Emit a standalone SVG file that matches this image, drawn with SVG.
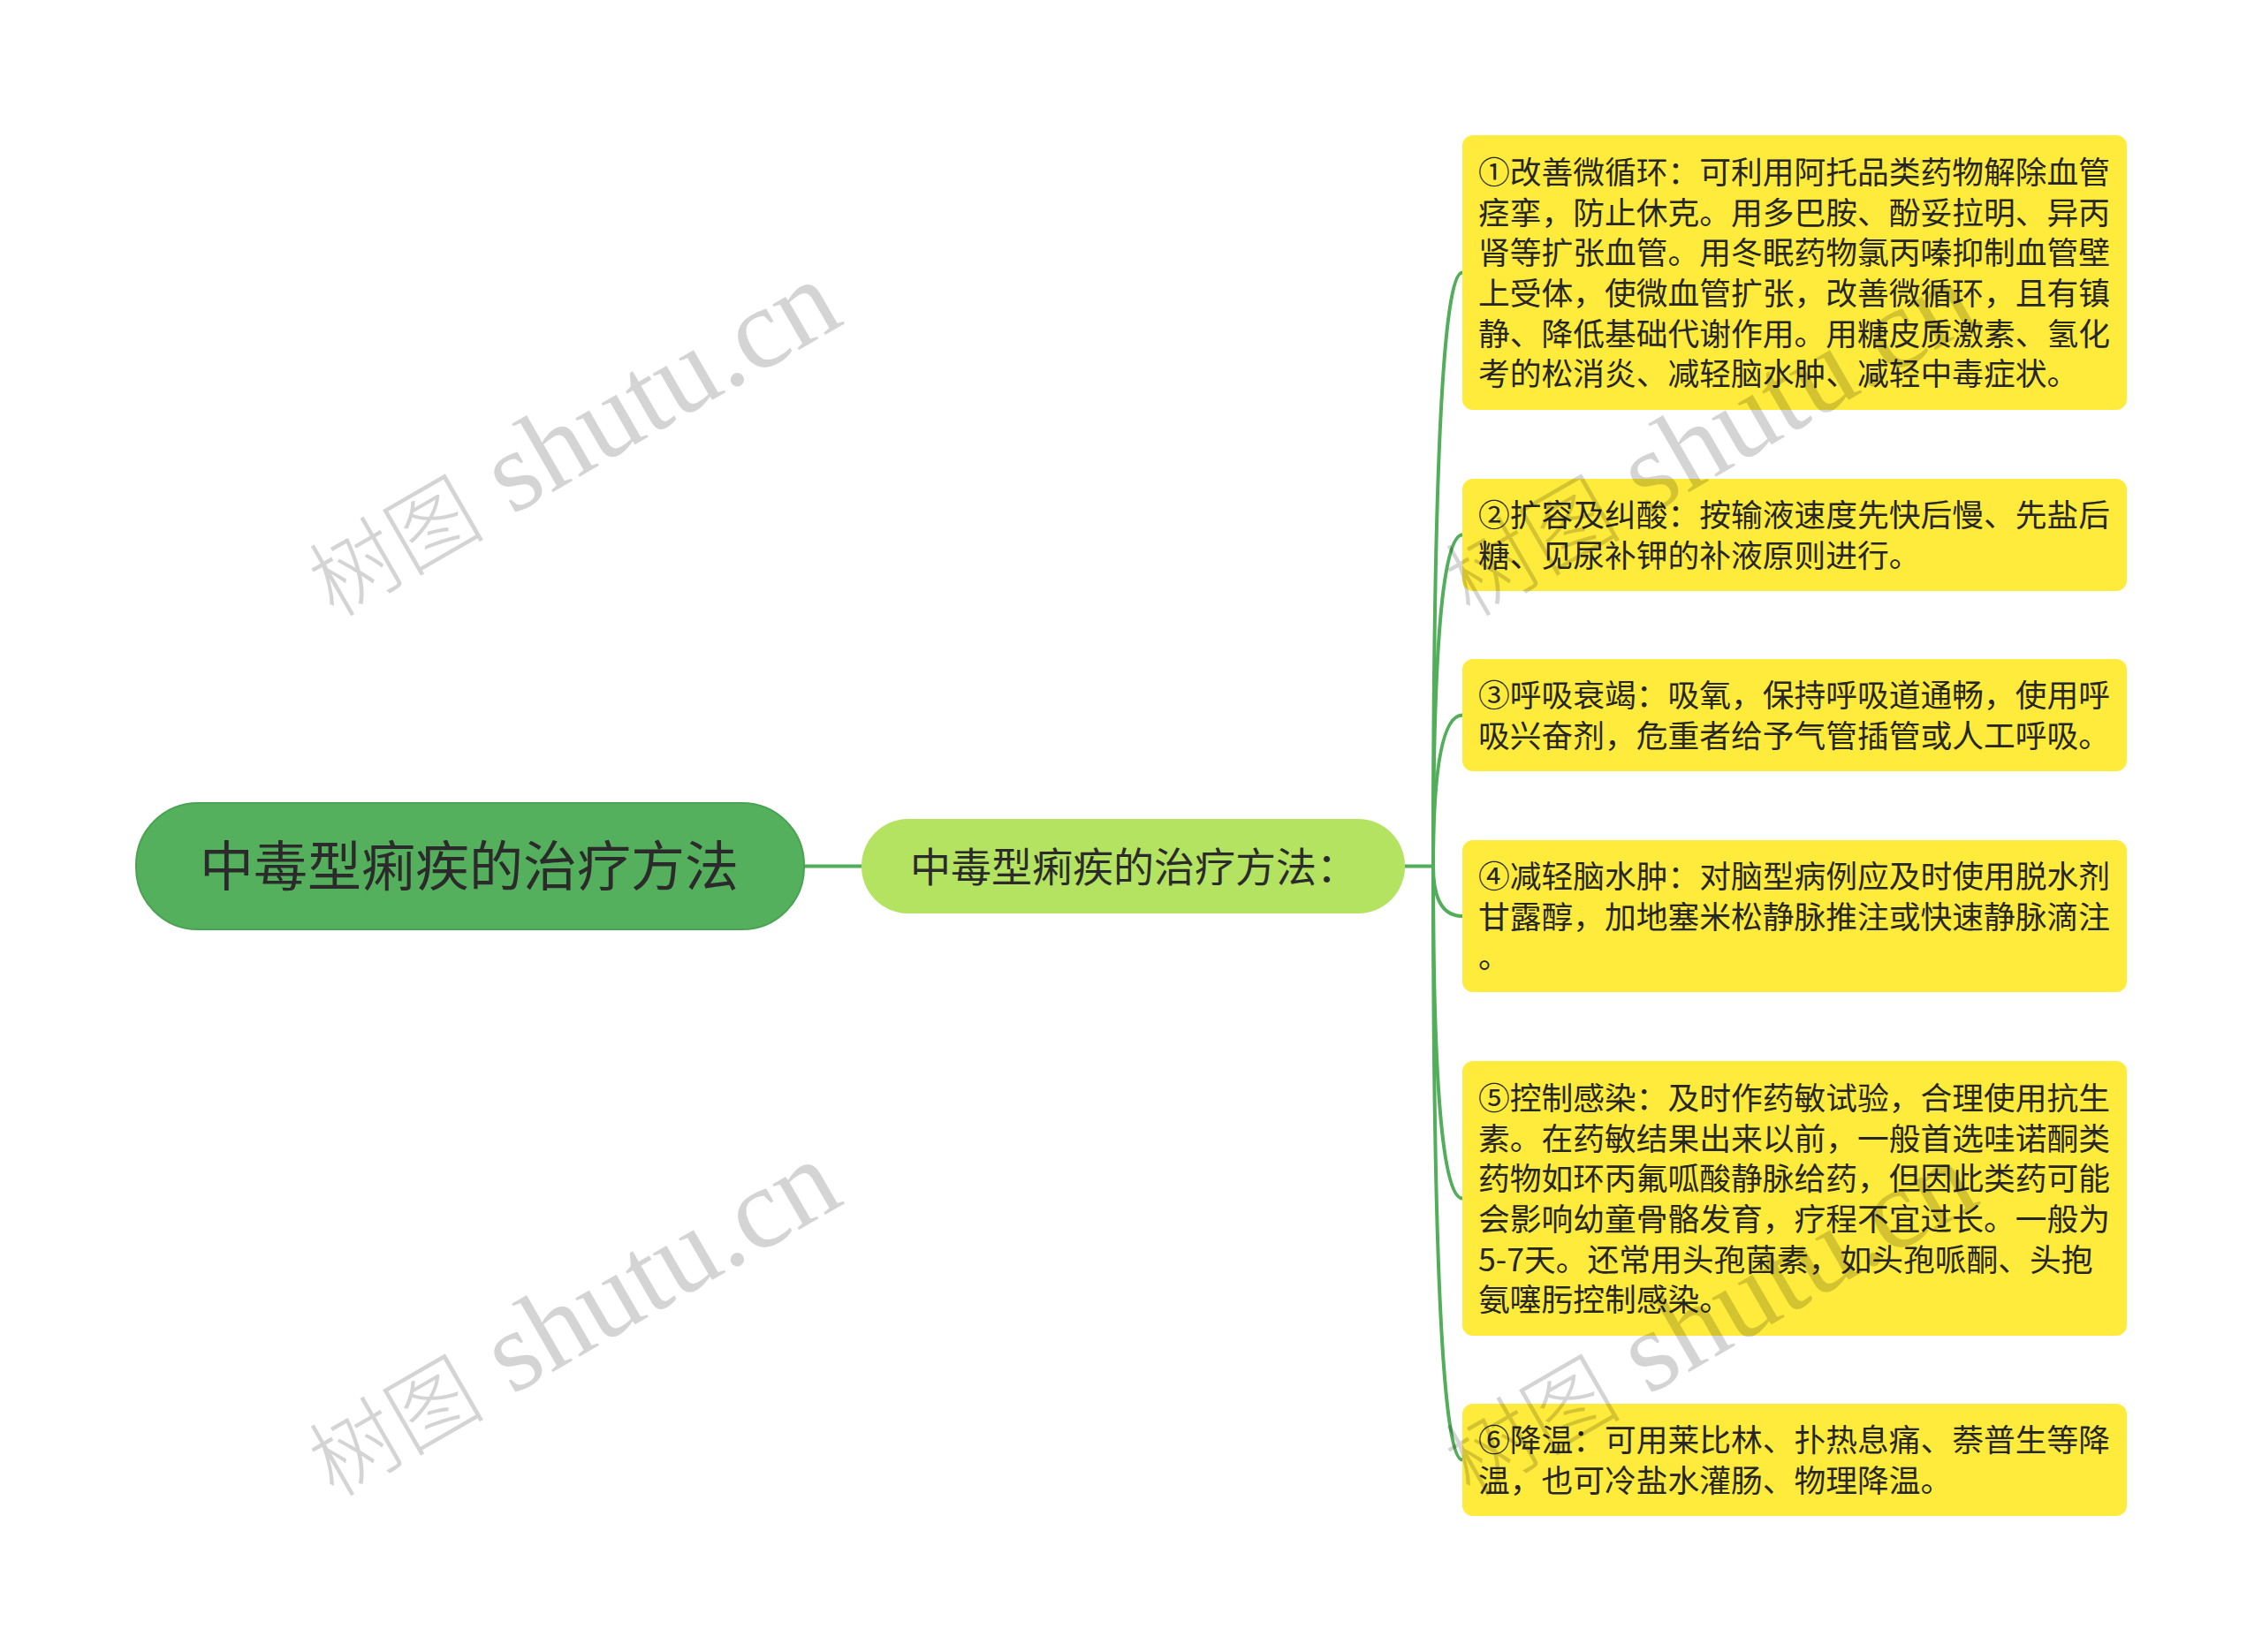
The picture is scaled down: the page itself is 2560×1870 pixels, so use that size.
<svg xmlns="http://www.w3.org/2000/svg" width="2560" height="1870" viewBox="0 0 2560 1870">
<style>
  .cjk { font-family: "Noto Sans CJK SC", "Noto Sans", sans-serif; }
  .leaf rect { fill: #ffeb3b; }
  .leaf text { font-size: 35.75px; fill: #262626; }
  .conn { fill: none; stroke: #52ae5a; stroke-width: 4; stroke-linecap: round; }
  .wm { font-family: "Liberation Serif", "Noto Sans CJK SC", serif; font-size: 130px; fill: #000; fill-opacity: 0.17; }
  .wm .zh { font-family: "Noto Sans CJK SC", serif; font-size: 100px; font-weight: 300; }
</style>
<rect width="2560" height="1870" fill="#ffffff"/>
<g id="connectors">
  <line class="conn" x1="908" y1="980.5" x2="977" y2="980.5"/>
  <line class="conn" x1="1588" y1="980.5" x2="1622" y2="980.5"/>
  <path class="conn" d="M1622 980.5 Q1622 308.5 1655 308.5"/>
  <path class="conn" d="M1622 980.5 Q1622 605.5 1655 605.5"/>
  <path class="conn" d="M1622 980.5 Q1622 809.5 1655 809.5"/>
  <path class="conn" d="M1622 980.5 Q1622 1037 1655 1037"/>
  <path class="conn" d="M1622 980.5 Q1622 1356.5 1655 1356.5"/>
  <path class="conn" d="M1622 980.5 Q1622 1652.5 1655 1652.5"/>
</g>
<g id="root">
  <rect x="154" y="909" width="756" height="143" rx="70" ry="70" fill="#55b05d" stroke="#4aa352" stroke-width="2"/>
  <text class="cjk" x="531" y="1003" text-anchor="middle" font-size="61" fill="#2b2b2b">中毒型痢疾的治疗方法</text>
</g>
<g id="main">
  <rect x="975" y="927" width="615" height="107" rx="53" ry="53" fill="#b4e361"/>
  <text class="cjk" x="1030" y="998" font-size="46" fill="#2b2b2b">中毒型痢疾的治疗方法：</text>
</g>
<g id="n1" class="leaf cjk">
  <rect x="1655" y="153" width="752" height="311" rx="12"/>
  <text>
    <tspan x="1673" y="208">①改善微循环：可利用阿托品类药物解除血管</tspan>
    <tspan x="1673" y="253.5">痉挛，防止休克。用多巴胺、酚妥拉明、异丙</tspan>
    <tspan x="1673" y="299">肾等扩张血管。用冬眠药物氯丙嗪抑制血管壁</tspan>
    <tspan x="1673" y="345">上受体，使微血管扩张，改善微循环，且有镇</tspan>
    <tspan x="1673" y="390.5">静、降低基础代谢作用。用糖皮质激素、氢化</tspan>
    <tspan x="1673" y="436">考的松消炎、减轻脑水肿、减轻中毒症状。</tspan>
  </text>
</g>
<g id="n2" class="leaf cjk">
  <rect x="1655" y="542" width="752" height="127" rx="12"/>
  <text>
    <tspan x="1673" y="596">②扩容及纠酸：按输液速度先快后慢、先盐后</tspan>
    <tspan x="1673" y="642">糖、见尿补钾的补液原则进行。</tspan>
  </text>
</g>
<g id="n3" class="leaf cjk">
  <rect x="1655" y="746" width="752" height="127" rx="12"/>
  <text>
    <tspan x="1673" y="800">③呼吸衰竭：吸氧，保持呼吸道通畅，使用呼</tspan>
    <tspan x="1673" y="846">吸兴奋剂，危重者给予气管插管或人工呼吸。</tspan>
  </text>
</g>
<g id="n4" class="leaf cjk">
  <rect x="1655" y="951" width="752" height="172" rx="12"/>
  <text>
    <tspan x="1673" y="1005">④减轻脑水肿：对脑型病例应及时使用脱水剂</tspan>
    <tspan x="1673" y="1050.5">甘露醇，加地塞米松静脉推注或快速静脉滴注</tspan>
    <tspan x="1673" y="1096">。</tspan>
  </text>
</g>
<g id="n5" class="leaf cjk">
  <rect x="1655" y="1201" width="752" height="311" rx="12"/>
  <text>
    <tspan x="1673" y="1256">⑤控制感染：及时作药敏试验，合理使用抗生</tspan>
    <tspan x="1673" y="1301.5">素。在药敏结果出来以前，一般首选哇诺酮类</tspan>
    <tspan x="1673" y="1347">药物如环丙氟呱酸静脉给药，但因此类药可能</tspan>
    <tspan x="1673" y="1393">会影响幼童骨骼发育，疗程不宜过长。一般为</tspan>
    <tspan x="1673" y="1438.5">5-7天。还常用头孢菌素，如头孢哌酮、头抱</tspan>
    <tspan x="1673" y="1484">氨噻肟控制感染。</tspan>
  </text>
</g>
<g id="n6" class="leaf cjk">
  <rect x="1655" y="1589" width="752" height="127" rx="12"/>
  <text>
    <tspan x="1673" y="1643">⑥降温：可用莱比林、扑热息痛、萘普生等降</tspan>
    <tspan x="1673" y="1689">温，也可冷盐水灌肠、物理降温。</tspan>
  </text>
</g>
<g id="watermark">
  <text class="wm" transform="translate(378 700) rotate(-30)"><tspan class="zh">树图</tspan> shutu.cn</text>
  <text class="wm" transform="translate(378 1696) rotate(-30)"><tspan class="zh">树图</tspan> shutu.cn</text>
  <text class="wm" transform="translate(1664 700) rotate(-30)"><tspan class="zh">树图</tspan> shutu.cn</text>
  <text class="wm" transform="translate(1664 1696) rotate(-30)"><tspan class="zh">树图</tspan> shutu.cn</text>
</g>
</svg>
